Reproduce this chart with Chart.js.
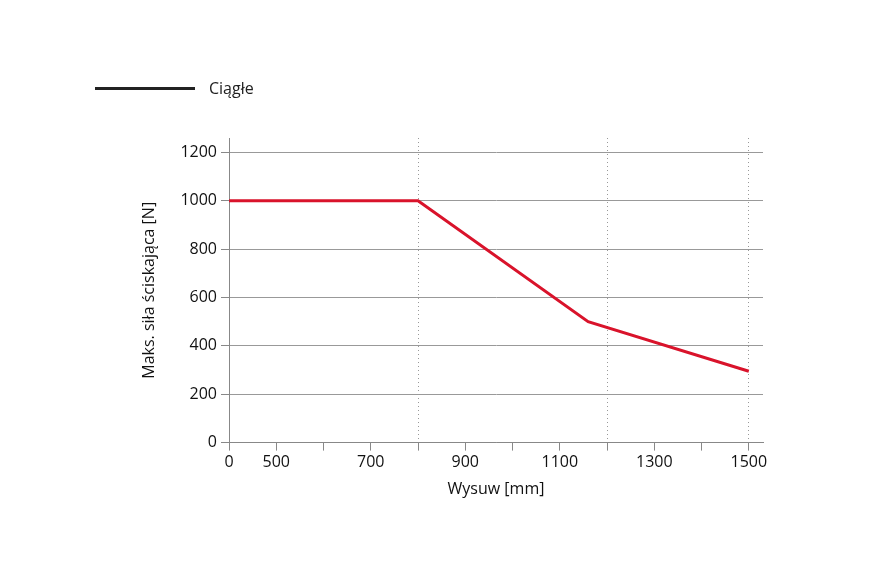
<!DOCTYPE html>
<html>
<head>
<meta charset="utf-8">
<script src="https://cdn.jsdelivr.net/npm/chart.js@4"></script>
<style>
	body { margin: 0; background: #fff; font-family: "Open Sans", sans-serif; }
	#wrap { position: relative; width: 885px; height: 575px; }
	#legend { position: absolute; left: 95px; top: 77px; font-size: 16px; color: #222; display: flex; align-items: center; }
	#legend span { display: inline-block; width: 100px; height: 3px; background: #222; margin-right: 14px; }
</style>
</head>
<body>
<div id="wrap">
	<canvas id="chart" width="885" height="575"></canvas>
	<div id="legend"><span></span>Ciągłe</div>
</div>
<script>
// x = 400 stands for the broken axis start, labelled "0"
const wysuw = [400, 800, 1160, 1500];
const sila = [1000, 1000, 500, 295];
const xTicks = [400, 500, 600, 700, 800, 900, 1000, 1100, 1200, 1300, 1400, 1500];
const xLabels = { 400: "0", 500: "500", 700: "700", 900: "900", 1100: "1100", 1300: "1300", 1500: "1500" };
const dottedX = [800, 1200, 1500];
const yTicks = [0, 200, 400, 600, 800, 1000, 1200];

const font = { family: "'Open Sans', sans-serif", size: 16 };

new Chart(document.getElementById("chart"), {
	type: "line",
	data: {
		datasets: [{
			label: "Ciągłe",
			data: wysuw.map((x, i) => ({ x: x, y: sila[i] })),
			borderColor: "#d9132b",
			borderWidth: 3,
			pointRadius: 0,
			tension: 0
		}]
	},
	options: {
		responsive: false,
		animation: false,
		layout: { padding: { top: 138, right: 122, bottom: 72, left: 140 } },
		plugins: { legend: { display: false }, tooltip: { enabled: false } },
		scales: {
			x: {
				type: "linear",
				min: 400,
				max: 1530,
				afterBuildTicks: s => { s.ticks = xTicks.map(v => ({ value: v })); },
				ticks: {
					autoSkip: false,
					maxRotation: 0,
					color: "#111",
					font: font,
					padding: 2,
					callback: v => xLabels[v] || ""
				},
				grid: {
					color: c => dottedX.includes(c.tick && c.tick.value) ? "#999" : "rgba(0,0,0,0)",
					tickColor: "#888",
					tickLength: 8
				},
				border: { color: "#888", dash: [1, 3] },
				title: { display: true, text: "Wysuw [mm]", color: "#111", font: font, padding: { top: 6 } }
			},
			y: {
				min: 0,
				max: 1260,
				afterBuildTicks: s => { s.ticks = yTicks.map(v => ({ value: v })); },
				afterFit: s => { s.width = 89; },
				ticks: { color: "#111", font: font, padding: 4, callback: v => String(v) },
				grid: { color: "#999", tickColor: "#888", tickLength: 8 },
				border: { color: "#888" },
				title: { display: true, text: "Maks. siła ściskająca [N]", color: "#111", font: font, padding: 0 }
			}
		}
	}
});
</script>
</body>
</html>
